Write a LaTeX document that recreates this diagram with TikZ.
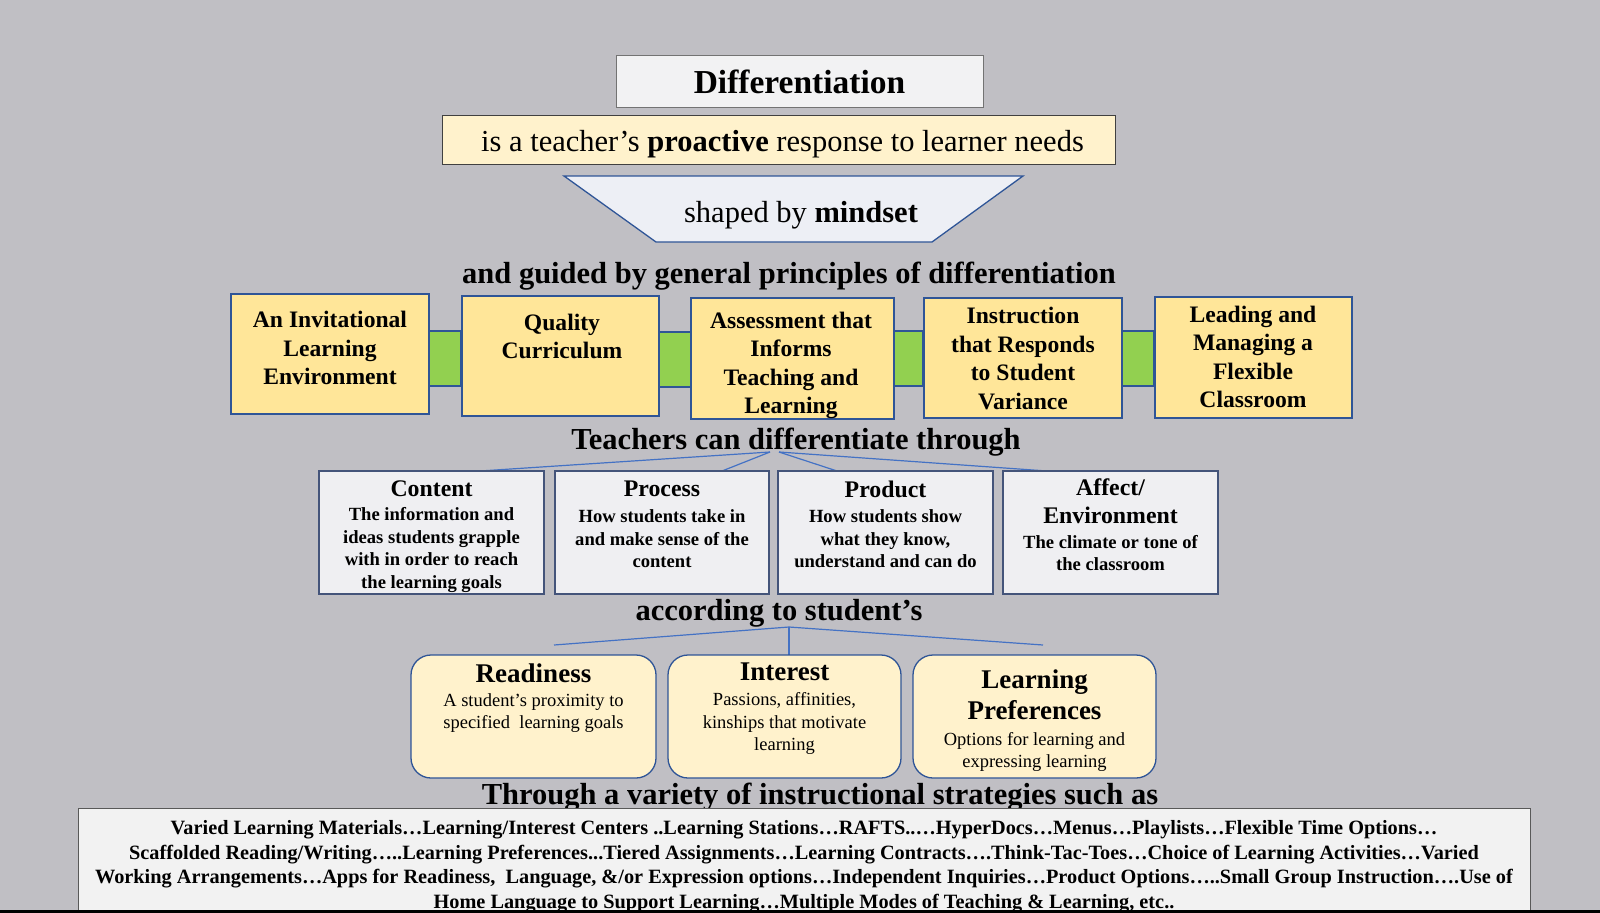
\documentclass[tikz,border=0pt]{standalone}
\usepackage{fontspec}
\setmainfont{Liberation Serif}
\usetikzlibrary{calc}
\definecolor{bgc}{HTML}{C0BFC4}
\definecolor{diffill}{HTML}{F2F2F3}
\definecolor{creamfill}{HTML}{FFF2CC}
\definecolor{trapfill}{HTML}{EDEFF5}
\definecolor{darkblue}{HTML}{2F5597}
\definecolor{goldfill}{HTML}{FFE699}
\definecolor{greenfill}{HTML}{92D050}
\definecolor{rowfill}{HTML}{EFEFF2}
\definecolor{rowborder}{HTML}{44547A}
\definecolor{linkblue}{HTML}{4472C4}
\definecolor{stratfill}{HTML}{F2F2F2}
\newcommand\fdiff{\fontsize{33.5bp}{40bp}\selectfont\bfseries}
\newcommand\fhead{\fontsize{30.5bp}{36bp}\selectfont}
\newcommand\fprin{\fontsize{23.6bp}{28.5bp}\selectfont\bfseries}
\newcommand\frowtitle{\fontsize{23.8bp}{28bp}\selectfont\bfseries}
\newcommand\frowbody{\fontsize{18.6bp}{22.4bp}\selectfont\bfseries}
\newcommand\fthrtitle{\fontsize{27bp}{31bp}\selectfont\bfseries}
\newcommand\fthrbody{\fontsize{18.5bp}{22.5bp}\selectfont}
\newcommand\fstrat{\fontsize{20.3bp}{24.5bp}\selectfont\bfseries}
\begin{document}
\begin{tikzpicture}[x=1bp,y=-1bp,
  boxbase/.style={inner sep=0pt, outer sep=0pt},
  diffbox/.style={boxbase, draw=gray!90!black, fill=diffill, line width=1bp},
  probox/.style={boxbase, draw=black!75, fill=creamfill, line width=1bp},
  prinbox/.style={boxbase, draw=darkblue, fill=goldfill, line width=1.5bp},
  greenlink/.style={boxbase, draw=darkblue, fill=greenfill, line width=1.5bp},
  rowbox/.style={boxbase, draw=rowborder, fill=rowfill, line width=1.5bp},
  thrbox/.style={boxbase, draw=darkblue, fill=creamfill, line width=1.3bp, rounded corners=20bp},
  stratbox/.style={boxbase, draw=black!65, fill=stratfill, line width=1bp},
  txt/.style={inner sep=0pt, align=center},
  link/.style={draw=linkblue, line width=1.2bp},
]
\fill[bgc] (0,0) rectangle (1600,912);
\useasboundingbox (0,0) rectangle (1600,912);

% title boxes
\node[diffbox, minimum width=367bp, minimum height=52bp] (diff) at (799.5,81) {};
\node[txt, font=\fdiff] (difft) at (799.5,82) {Differentiation};
\node[probox, minimum width=673bp, minimum height=49bp] (pro) at (778.5,139.5) {};
\node[txt, font=\fhead] (prot) at (782.5,144) {is a teacher’s \textbf{proactive} response to learner needs};

% trapezoid
\draw[darkblue, fill=trapfill, line width=1.3bp] (564,176) -- (1023,176) -- (932,242) -- (656,242) -- cycle;
\node[txt, font=\fhead] (mind) at (801,215) {shaped by \textbf{mindset}};

\node[txt, font=\fhead\bfseries] (guided) at (789,276) {and guided by general principles of differentiation};

% green links
\node[greenlink, minimum width=32bp, minimum height=55bp] (g1) at (445,358.5) {};
\node[greenlink, minimum width=32bp, minimum height=55bp] (g2) at (675,359.5) {};
\node[greenlink, minimum width=29bp, minimum height=55bp] (g3) at (908.5,358.5) {};
\node[greenlink, minimum width=32bp, minimum height=55bp] (g4) at (1138,358.5) {};

% principle boxes
\node[prinbox, minimum width=198bp, minimum height=120bp] (p1) at (330,354) {};
\node[prinbox, minimum width=197bp, minimum height=120bp] (p2) at (560.5,356) {};
\node[prinbox, minimum width=203bp, minimum height=121bp] (p3) at (792.5,358.5) {};
\node[prinbox, minimum width=198bp, minimum height=120bp] (p4) at (1023,358) {};
\node[prinbox, minimum width=197bp, minimum height=121bp] (p5) at (1253.5,357.5) {};
\node[txt, font=\fprin] (p1t) at (330,348) {An Invitational\\Learning\\Environment};
\node[txt, font=\fprin] (p2t) at (562,336.5) {Quality\\Curriculum};
\node[txt, font=\fprin] (p3t) at (791,365.5) {Assessment that\\Informs\\Teaching and\\Learning};
\node[txt, font=\fprin] (p4t) at (1023,358.5) {Instruction\\that Responds\\to Student\\Variance};
\node[txt, font=\fprin] (p5t) at (1253,357) {Leading and\\Managing a\\Flexible\\Classroom};

\node[txt, font=\fhead\bfseries] (teach) at (796,442) {Teachers can differentiate through};

% connectors row 2
\coordinate (h1) at (770,452);
\coordinate (h2) at (779,452);
\coordinate (e1) at (480,471);
\coordinate (e2) at (722,471);
\coordinate (e3) at (837,471);
\coordinate (e4) at (1047,471);
\draw[link] (h1) -- (e1);
\draw[link] (h1) -- (e2);
\draw[link] (h2) -- (e3);
\draw[link] (h2) -- (e4);

% row 2 boxes
\node[rowbox, minimum width=225bp, minimum height=123bp] (c1) at (431.5,532.5) {};
\node[rowbox, minimum width=214bp, minimum height=123bp] (c2) at (662,532.5) {};
\node[rowbox, minimum width=215bp, minimum height=123bp] (c3) at (885.5,532.5) {};
\node[rowbox, minimum width=215bp, minimum height=123bp] (c4) at (1110.5,532.5) {};
\node[txt, font=\frowtitle] (c1t) at (431.5,489) {Content};
\node[txt, font=\frowbody] (c1b) at (431.5,550) {The information and\\ideas students grapple\\with in order to reach\\the learning goals};
\node[txt, font=\frowtitle] (c2t) at (662,489) {Process};
\node[txt, font=\frowbody] (c2b) at (662,539) {How students take in\\and make sense of the\\content};
\node[txt, font=\frowtitle] (c3t) at (885.5,489) {Product};
\node[txt, font=\frowbody] (c3b) at (885.5,539) {How students show\\what they know,\\understand and can do};
\node[txt, font=\frowtitle] (c4t) at (1110.5,501) {Affect/\\Environment};
\node[txt, font=\frowbody] (c4b) at (1110.5,553) {The climate or tone of\\the classroom};

\node[txt, font=\fhead\bfseries] (acc) at (779,613) {according to student’s};

% connectors row 3
\coordinate (k) at (789,627);
\coordinate (k1) at (554,645);
\coordinate (k2) at (789,655);
\coordinate (k3) at (1043,645);
\draw[link] (k) -- (k1);
\draw[link, line width=1.8bp] (k) -- (k2);
\draw[link] (k) -- (k3);

% row 3 boxes
\node[thrbox, minimum width=245bp, minimum height=123bp] (r1) at (533.5,716.5) {};
\node[thrbox, minimum width=233bp, minimum height=123bp] (r2) at (784.5,716.5) {};
\node[thrbox, minimum width=243bp, minimum height=123bp] (r3) at (1034.5,716.5) {};
\node[txt, font=\fthrtitle] (r1t) at (533.5,673) {Readiness};
\node[txt, font=\fthrbody] (r1b) at (533.5,713) {A student’s proximity to\\specified\ \ learning goals};
\node[txt, font=\fthrtitle] (r2t) at (784.5,672) {Interest};
\node[txt, font=\fthrbody] (r2b) at (784.5,723.5) {Passions, affinities,\\kinships that motivate\\learning};
\node[txt, font=\fthrtitle] (r3t) at (1034.5,695) {Learning\\Preferences};
\node[txt, font=\fthrbody] (r3b) at (1034.5,752) {Options for learning and\\expressing learning};

\node[txt, font=\fhead\bfseries] (through) at (820,797) {Through a variety of instructional strategies such as};

% strategies box
\node[stratbox, minimum width=1451bp, minimum height=110bp] (strat) at (804.5,863) {};
\node[txt, font=\fstrat] (stratt) at (804,866.5) {Varied Learning Materials…Learning/Interest Centers ..Learning Stations…RAFTS..…HyperDocs…Menus…Playlists…Flexible Time Options…\\
Scaffolded Reading/Writing…..Learning Preferences...Tiered Assignments…Learning Contracts….Think-Tac-Toes…Choice of Learning Activities…Varied\\
Working Arrangements…Apps for Readiness,\ \ Language, \&/or Expression options…Independent Inquiries…Product Options…..Small Group Instruction….Use of\\
Home Language to Support Learning…Multiple Modes of Teaching \& Learning, etc..};
\fill[black] (0,910) rectangle (1600,913);
\end{tikzpicture}
\end{document}
